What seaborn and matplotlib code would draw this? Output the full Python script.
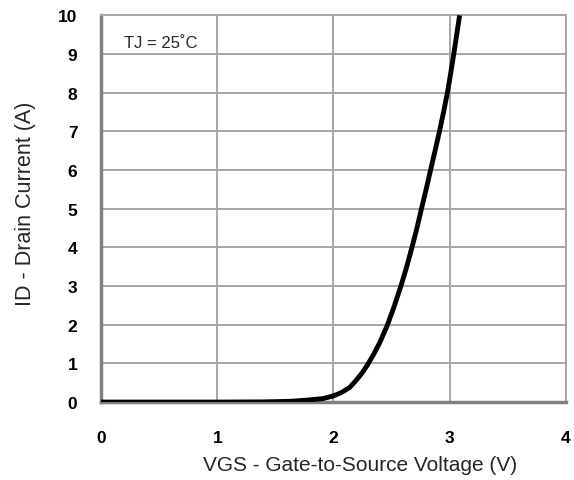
import numpy as np
import pandas as pd
import seaborn as sns
import matplotlib
matplotlib.use("Agg")
import matplotlib.pyplot as plt

# Curva de transferencia (TJ = 25 °C)
vgs = [0.0, 0.5, 1.0, 1.4, 1.63, 1.77, 1.91, 2.0, 2.07, 2.14, 2.2, 2.25,
       2.30, 2.35, 2.40, 2.465, 2.525, 2.58, 2.63, 2.675, 2.718, 2.757,
       2.797, 2.835, 2.874, 2.912, 2.947, 2.98, 3.008, 3.035, 3.06, 3.085]
id_a = [0.0, 0.0, 0.0, 0.005, 0.02, 0.05, 0.09, 0.16, 0.25, 0.38, 0.58, 0.77,
        1.0, 1.26, 1.55, 2.0, 2.5, 3.0, 3.5, 4.0, 4.5, 5.0,
        5.5, 6.0, 6.5, 7.0, 7.5, 8.0, 8.5, 9.0, 9.5, 10.0]
x_ticks = [0, 1, 2, 3, 4]
y_ticks = list(range(0, 11))

GRID = "#a6a6a6"
SPINE = "#808080"

sns.set_style("white")
plt.rcParams['font.family'] = ['Liberation Sans', 'DejaVu Sans']

df = pd.DataFrame({"VGS": vgs, "ID": id_a})

fig = plt.figure(figsize=(5.74, 4.81), dpi=100)
ax = fig.add_axes([0.176, 0.162, 0.810, 0.804])

sns.lineplot(data=df, x="VGS", y="ID", ax=ax, color="black", lw=3.5,
             sort=False, zorder=3, solid_joinstyle="round",
             solid_capstyle="butt")

ax.set_xlim(0, 4)
ax.set_ylim(0, 10)
ax.set_xticks(x_ticks)
ax.set_yticks(y_ticks)
ax.set_xticklabels([str(t) for t in x_ticks], fontsize=12.5, fontweight="bold")
ax.set_yticklabels([str(t) for t in y_ticks], fontsize=12.5, fontweight="bold")
ax.tick_params(axis="both", length=0, colors="black")
ax.tick_params(axis="x", pad=20)
ax.tick_params(axis="y", pad=17)

ax.grid(True, color=GRID, lw=1.4, zorder=0)
for s in ["top", "right"]:
    ax.spines[s].set_color(GRID)
    ax.spines[s].set_linewidth(1.4)
for s in ["left", "bottom"]:
    ax.spines[s].set_color(SPINE)
    ax.spines[s].set_linewidth(2.5)

ax.set_xlabel("VGS - Gate-to-Source Voltage (V)", fontsize=15)
ax.xaxis.set_label_coords(0.557, -0.137)
ax.set_ylabel("ID - Drain Current (A)", fontsize=15.5)
ax.yaxis.set_label_coords(-0.14, 0.515)

ax.text(0.51, 9.31, "TJ = 25˚C", fontsize=12, ha="center", va="center")

plt.savefig("out.png", dpi=100)
